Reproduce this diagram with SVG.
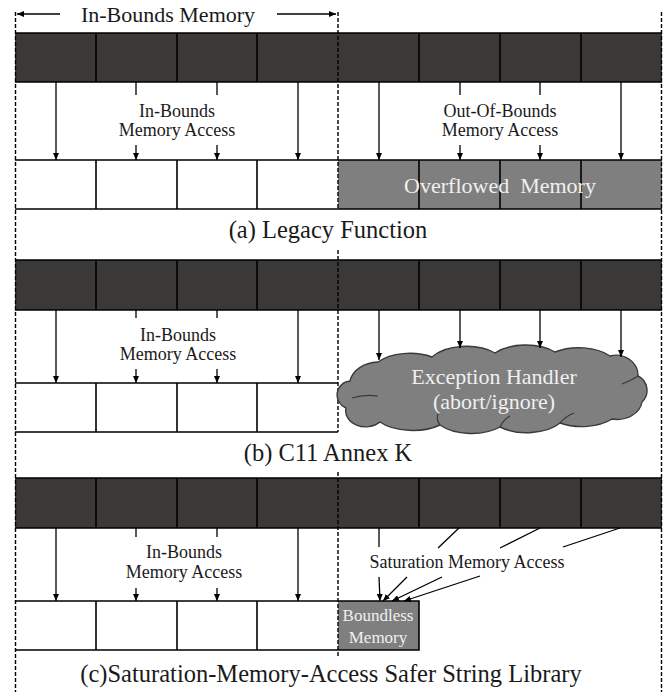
<svg xmlns="http://www.w3.org/2000/svg" width="667" height="692" viewBox="0 0 667 692">
<style>
.bar{fill:#3a3938;}
.ol{fill:none;stroke:#000;stroke-width:1.6;}
.dash{fill:none;stroke:#000;stroke-width:1.4;stroke-dasharray:4 2;}
.con{fill:none;stroke:#000;stroke-width:1.3;}
.arr{marker-end:url(#ah);}
.t{font-family:"Liberation Serif","Times New Roman",serif;fill:#1a1a1a;text-anchor:middle;}
.s{font-size:18px;}
.cap{font-size:24.5px;}
.w{fill:#f0f0f0;}
.gray{fill:#7f7f7f;}
</style>
<defs>
<marker id="ah" viewBox="0 0 7 6" refX="7" refY="3" markerWidth="7" markerHeight="6" orient="auto" markerUnits="userSpaceOnUse"><path d="M0,0 L7,3 L0,6 z" fill="#000"/></marker>
</defs>
<rect width="667" height="692" fill="#fff"/>

<g id="fills">
<rect class="bar" x="15" y="33" width="647" height="49"/>
<rect class="bar" x="15" y="260" width="647" height="50"/>
<rect class="bar" x="15" y="478" width="647" height="50"/>
<rect class="gray" x="338" y="160" width="324" height="49"/>
<rect class="gray" x="338" y="601" width="81" height="49"/>
</g>

<g id="bounds">
<line class="dash" x1="15.5" y1="12" x2="15.5" y2="692"/>
<line class="dash" x1="661.5" y1="12" x2="661.5" y2="692"/>
<path class="dash" d="M338,12 V209 M338,250 V432 M338,472 V658"/>
</g>

<g id="top-label">
<line class="con arr" x1="60" y1="14" x2="17" y2="14"/>
<line class="con arr" x1="277" y1="14" x2="336" y2="14"/>
<text class="t" x="168" y="22" font-size="22">In-Bounds Memory</text>
</g>

<g id="row-a-source">
<path class="ol" d="M15,33 H662 M15,82 H662 M96,33 V82 M177,33 V82 M257,33 V82 M419,33 V82 M500,33 V82 M581,33 V82"/>
</g>
<g id="row-a-inbounds">
<path class="ol" d="M15,160 H338 M15,209 H338 M96,160 V209 M177,160 V209 M257,160 V209"/>
</g>
<g id="row-a-overflow">
<path class="ol" d="M338,160 H662 M338,209 H662 M419,160 V209 M500,160 V209 M581,160 V209"/>
<text class="t w" x="500" y="193" font-size="22" xml:space="preserve">Overflowed  Memory</text>
</g>
<g id="row-a-connectors">
<line class="con arr" x1="56" y1="82" x2="56" y2="160"/>
<line class="con arr" x1="298" y1="82" x2="298" y2="160"/>
<path class="con" d="M136,82 V95 M217,82 V95"/>
<line class="con arr" x1="136" y1="145" x2="136" y2="160"/>
<line class="con arr" x1="217" y1="145" x2="217" y2="160"/>
<line class="con arr" x1="379" y1="82" x2="379" y2="160"/>
<line class="con arr" x1="621" y1="82" x2="621" y2="160"/>
<path class="con" d="M460,82 V95 M540,82 V95"/>
<line class="con arr" x1="460" y1="145" x2="460" y2="160"/>
<line class="con arr" x1="540" y1="145" x2="540" y2="160"/>
<text class="t s" x="177" y="117">In-Bounds</text>
<text class="t s" x="177" y="136">Memory Access</text>
<text class="t s" x="500" y="117">Out-Of-Bounds</text>
<text class="t s" x="500" y="136">Memory Access</text>
</g>
<text id="cap-a" class="t cap" x="328" y="238">(a) Legacy Function</text>

<g id="row-b-source">
<path class="ol" d="M15,260 H662 M15,310 H662 M96,260 V310 M177,260 V310 M257,260 V310 M419,260 V310 M500,260 V310 M581,260 V310"/>
</g>
<g id="row-b-inbounds">
<path class="ol" d="M15,383 H338 M15,432 H338 M96,383 V432 M177,383 V432 M257,383 V432"/>
</g>
<g id="row-b-handler">
<path d="M346,408 A14,14 0 0 1 350,381 A30,22 0 0 1 378,362 A40,22 0 0 1 432,357 A40,22 0 0 1 495,353 A40,22 0 0 1 555,352 A40,22 0 0 1 610,356 A22,20 0 0 1 638,376 A16,16 0 0 1 642,402 A25,20 0 0 1 612,419 A40,22 0 0 1 560,423 A40,22 0 0 1 500,427 A40,22 0 0 1 440,425 A40,20 0 0 1 380,422 A20,16 0 0 1 346,408 Z" fill="#7f7f7f" stroke="#3a3a3a" stroke-width="1.4"/>
<path d="M352,398 Q364,394 378,396 M622,384 Q632,380 638,376 M500,427 Q503,420 510,416 M440,425 Q436,420 438,414 M560,423 Q566,416 574,413" fill="none" stroke="#3a3a3a" stroke-width="1.2"/>
<text class="t w" x="494" y="384" font-size="22">Exception Handler</text>
<text class="t w" x="494" y="409" font-size="22">(abort/ignore)</text>
</g>
<g id="row-b-connectors">
<line class="con arr" x1="56" y1="310" x2="56" y2="383"/>
<line class="con arr" x1="298" y1="310" x2="298" y2="383"/>
<path class="con" d="M136,310 V318 M217,310 V318"/>
<line class="con arr" x1="136" y1="369" x2="136" y2="383"/>
<line class="con arr" x1="217" y1="369" x2="217" y2="383"/>
<line class="con arr" x1="379" y1="310" x2="379" y2="360"/>
<line class="con arr" x1="460" y1="310" x2="460" y2="348"/>
<line class="con arr" x1="540" y1="310" x2="540" y2="348"/>
<line class="con arr" x1="621" y1="310" x2="621" y2="357"/>
<text class="t s" x="178" y="341">In-Bounds</text>
<text class="t s" x="178" y="360">Memory Access</text>
</g>
<text id="cap-b" class="t cap" x="328" y="461">(b) C11 Annex K</text>

<g id="row-c-source">
<path class="ol" d="M15,478 H662 M15,528 H662 M96,478 V528 M177,478 V528 M257,478 V528 M419,478 V528 M500,478 V528 M581,478 V528"/>
</g>
<g id="row-c-inbounds">
<path class="ol" d="M15,601 H338 M15,650 H338 M96,601 V650 M177,601 V650 M257,601 V650"/>
</g>
<g id="row-c-boundless">
<path class="ol" d="M338,601 H419 V650 H338"/>
<text class="t w" x="378" y="621" font-size="17">Boundless</text>
<text class="t w" x="378" y="643" font-size="17">Memory</text>
</g>
<g id="row-c-connectors">
<line class="con arr" x1="56" y1="528" x2="56" y2="601"/>
<line class="con arr" x1="298" y1="528" x2="298" y2="601"/>
<path class="con" d="M136,528 V537 M217,528 V537"/>
<line class="con arr" x1="136" y1="588" x2="136" y2="601"/>
<line class="con arr" x1="217" y1="588" x2="217" y2="601"/>
<path class="con" d="M379,528 V547 M459,528 L438,548 M540,528 L500,548 M620,528 L563,547"/>
<line class="con arr" x1="379" y1="577" x2="380" y2="601"/>
<line class="con arr" x1="407" y1="577" x2="383" y2="601"/>
<line class="con arr" x1="442" y1="577" x2="392" y2="601"/>
<line class="con arr" x1="480" y1="576" x2="404" y2="601"/>
<text class="t s" x="184" y="558">In-Bounds</text>
<text class="t s" x="184" y="578">Memory Access</text>
<text class="t s" x="467" y="568">Saturation Memory Access</text>
</g>
<text id="cap-c" class="t cap" x="331" y="682">(c)Saturation-Memory-Access Safer String Library</text>
</svg>
